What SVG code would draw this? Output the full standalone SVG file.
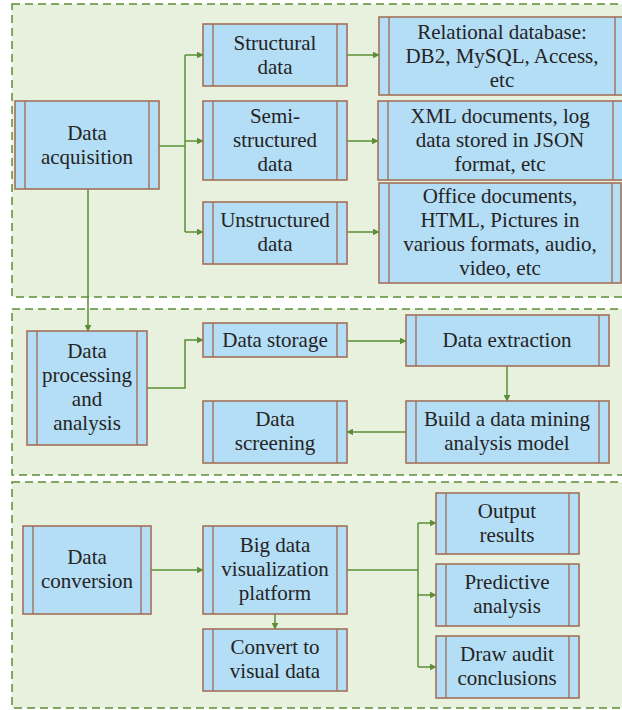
<svg xmlns="http://www.w3.org/2000/svg" width="622" height="710" viewBox="0 0 622 710">
  <style>
    .panel { fill: #e7f1de; stroke: #5b8f36; stroke-width: 1.5; stroke-dasharray: 8 5; }
    .box { fill: #b3def5; stroke: #a3705a; stroke-width: 1.6; }
    .bar { stroke: #a3705a; stroke-width: 1.4; }
    .lbl { font-family: 'Liberation Serif', 'DejaVu Serif', serif; font-size: 21px; fill: #262324; text-anchor: middle; }
    .link { fill: none; stroke: #5b8f36; stroke-width: 1.5; }
  </style>
  <defs>
    <marker id="arrow" viewBox="0 0 10 10" refX="9" refY="5" markerWidth="7" markerHeight="7" markerUnits="userSpaceOnUse" orient="auto">
      <path d="M0,0 L10,5 L0,10 Z" fill="#5b8f36"/>
    </marker>
  </defs>

  <!-- stage panels -->
  <g id="panels">
    <rect class="panel" x="12" y="4" width="620" height="293"/>
    <rect class="panel" x="12" y="309" width="620" height="166"/>
    <rect class="panel" x="12" y="482" width="620" height="226"/>
  </g>

  <!-- connectors -->
  <g id="connectors">
    <path class="link" d="M159,146 H185"/>
    <path class="link" d="M185,55 V232"/>
    <path class="link" d="M185,55 H203" marker-end="url(#arrow)"/>
    <path class="link" d="M185,141 H203" marker-end="url(#arrow)"/>
    <path class="link" d="M185,232 H203" marker-end="url(#arrow)"/>
    <path class="link" d="M347,55 H379" marker-end="url(#arrow)"/>
    <path class="link" d="M347,141 H378" marker-end="url(#arrow)"/>
    <path class="link" d="M347,232 H379" marker-end="url(#arrow)"/>
    <path class="link" d="M88,189 V331" marker-end="url(#arrow)"/>
    <path class="link" d="M147,388 H185 V340 H203" marker-end="url(#arrow)"/>
    <path class="link" d="M347,341 H406" marker-end="url(#arrow)"/>
    <path class="link" d="M507,366 V401" marker-end="url(#arrow)"/>
    <path class="link" d="M406,432 H347" marker-end="url(#arrow)"/>
    <path class="link" d="M151,570 H203" marker-end="url(#arrow)"/>
    <path class="link" d="M275,614 V629" marker-end="url(#arrow)"/>
    <path class="link" d="M347,570 H418"/>
    <path class="link" d="M418,523 V667"/>
    <path class="link" d="M418,523 H436" marker-end="url(#arrow)"/>
    <path class="link" d="M418,595 H436" marker-end="url(#arrow)"/>
    <path class="link" d="M418,667 H436" marker-end="url(#arrow)"/>
  </g>

  <!-- stage 1: acquisition -->
  <g id="data-acquisition">
    <rect class="box" x="15" y="101" width="144" height="88"/>
    <line class="bar" x1="25" y1="101" x2="25" y2="189"/>
    <line class="bar" x1="149" y1="101" x2="149" y2="189"/>
    <text class="lbl" x="87" y="140">Data</text>
    <text class="lbl" x="87" y="164">acquisition</text>
  </g>
  <g id="structural-data">
    <rect class="box" x="203" y="24" width="144" height="62"/>
    <line class="bar" x1="213" y1="24" x2="213" y2="86"/>
    <line class="bar" x1="337" y1="24" x2="337" y2="86"/>
    <text class="lbl" x="275" y="50">Structural</text>
    <text class="lbl" x="275" y="74">data</text>
  </g>
  <g id="semi-structured-data">
    <rect class="box" x="203" y="101" width="144" height="79"/>
    <line class="bar" x1="213" y1="101" x2="213" y2="180"/>
    <line class="bar" x1="337" y1="101" x2="337" y2="180"/>
    <text class="lbl" x="275" y="123">Semi-</text>
    <text class="lbl" x="275" y="147">structured</text>
    <text class="lbl" x="275" y="171">data</text>
  </g>
  <g id="unstructured-data">
    <rect class="box" x="203" y="202" width="144" height="62"/>
    <line class="bar" x1="213" y1="202" x2="213" y2="264"/>
    <line class="bar" x1="337" y1="202" x2="337" y2="264"/>
    <text class="lbl" x="275" y="227">Unstructured</text>
    <text class="lbl" x="275" y="251">data</text>
  </g>
  <g id="relational-database">
    <rect class="box" x="379" y="17" width="246" height="78"/>
    <line class="bar" x1="389" y1="17" x2="389" y2="95"/>
    <line class="bar" x1="615" y1="17" x2="615" y2="95"/>
    <text class="lbl" x="502" y="39">Relational database:</text>
    <text class="lbl" x="502" y="63">DB2, MySQL, Access,</text>
    <text class="lbl" x="502" y="87">etc</text>
  </g>
  <g id="xml-json">
    <rect class="box" x="378" y="101" width="245" height="79"/>
    <line class="bar" x1="388" y1="101" x2="388" y2="180"/>
    <line class="bar" x1="613" y1="101" x2="613" y2="180"/>
    <text class="lbl" x="500" y="123">XML documents, log</text>
    <text class="lbl" x="500" y="147">data stored in JSON</text>
    <text class="lbl" x="500" y="171">format, etc</text>
  </g>
  <g id="office-media">
    <rect class="box" x="379" y="183" width="242" height="100"/>
    <line class="bar" x1="389" y1="183" x2="389" y2="283"/>
    <line class="bar" x1="612" y1="183" x2="612" y2="283"/>
    <text class="lbl" x="500" y="203">Office documents,</text>
    <text class="lbl" x="500" y="227">HTML, Pictures in</text>
    <text class="lbl" x="500" y="251">various formats, audio,</text>
    <text class="lbl" x="500" y="275">video, etc</text>
  </g>

  <!-- stage 2: processing -->
  <g id="data-processing">
    <rect class="box" x="27" y="331" width="120" height="114"/>
    <line class="bar" x1="37" y1="331" x2="37" y2="445"/>
    <line class="bar" x1="137" y1="331" x2="137" y2="445"/>
    <text class="lbl" x="87" y="358">Data</text>
    <text class="lbl" x="87" y="382">processing</text>
    <text class="lbl" x="87" y="406">and</text>
    <text class="lbl" x="87" y="430">analysis</text>
  </g>
  <g id="data-storage">
    <rect class="box" x="203" y="323" width="144" height="34"/>
    <line class="bar" x1="213" y1="323" x2="213" y2="357"/>
    <line class="bar" x1="337" y1="323" x2="337" y2="357"/>
    <text class="lbl" x="275" y="347">Data storage</text>
  </g>
  <g id="data-screening">
    <rect class="box" x="203" y="401" width="144" height="62"/>
    <line class="bar" x1="213" y1="401" x2="213" y2="463"/>
    <line class="bar" x1="337" y1="401" x2="337" y2="463"/>
    <text class="lbl" x="275" y="426">Data</text>
    <text class="lbl" x="275" y="450">screening</text>
  </g>
  <g id="data-extraction">
    <rect class="box" x="406" y="315" width="203" height="51"/>
    <line class="bar" x1="416" y1="315" x2="416" y2="366"/>
    <line class="bar" x1="599" y1="315" x2="599" y2="366"/>
    <text class="lbl" x="507" y="347">Data extraction</text>
  </g>
  <g id="mining-model">
    <rect class="box" x="406" y="401" width="203" height="62"/>
    <line class="bar" x1="416" y1="401" x2="416" y2="463"/>
    <line class="bar" x1="599" y1="401" x2="599" y2="463"/>
    <text class="lbl" x="507" y="426">Build a data mining</text>
    <text class="lbl" x="507" y="450">analysis model</text>
  </g>

  <!-- stage 3: conversion -->
  <g id="data-conversion">
    <rect class="box" x="23" y="526" width="128" height="88"/>
    <line class="bar" x1="33" y1="526" x2="33" y2="614"/>
    <line class="bar" x1="141" y1="526" x2="141" y2="614"/>
    <text class="lbl" x="87" y="564">Data</text>
    <text class="lbl" x="87" y="588">conversion</text>
  </g>
  <g id="visualization-platform">
    <rect class="box" x="203" y="526" width="144" height="88"/>
    <line class="bar" x1="213" y1="526" x2="213" y2="614"/>
    <line class="bar" x1="337" y1="526" x2="337" y2="614"/>
    <text class="lbl" x="275" y="552">Big data</text>
    <text class="lbl" x="275" y="576">visualization</text>
    <text class="lbl" x="275" y="600">platform</text>
  </g>
  <g id="visual-data">
    <rect class="box" x="203" y="629" width="144" height="62"/>
    <line class="bar" x1="213" y1="629" x2="213" y2="691"/>
    <line class="bar" x1="337" y1="629" x2="337" y2="691"/>
    <text class="lbl" x="275" y="654">Convert to</text>
    <text class="lbl" x="275" y="678">visual data</text>
  </g>
  <g id="output-results">
    <rect class="box" x="436" y="493" width="143" height="61"/>
    <line class="bar" x1="446" y1="493" x2="446" y2="554"/>
    <line class="bar" x1="569" y1="493" x2="569" y2="554"/>
    <text class="lbl" x="507" y="518">Output</text>
    <text class="lbl" x="507" y="542">results</text>
  </g>
  <g id="predictive-analysis">
    <rect class="box" x="436" y="564" width="143" height="62"/>
    <line class="bar" x1="446" y1="564" x2="446" y2="626"/>
    <line class="bar" x1="569" y1="564" x2="569" y2="626"/>
    <text class="lbl" x="507" y="589">Predictive</text>
    <text class="lbl" x="507" y="613">analysis</text>
  </g>
  <g id="audit-conclusions">
    <rect class="box" x="436" y="636" width="143" height="62"/>
    <line class="bar" x1="446" y1="636" x2="446" y2="698"/>
    <line class="bar" x1="569" y1="636" x2="569" y2="698"/>
    <text class="lbl" x="507" y="661">Draw audit</text>
    <text class="lbl" x="507" y="685">conclusions</text>
  </g>
</svg>
